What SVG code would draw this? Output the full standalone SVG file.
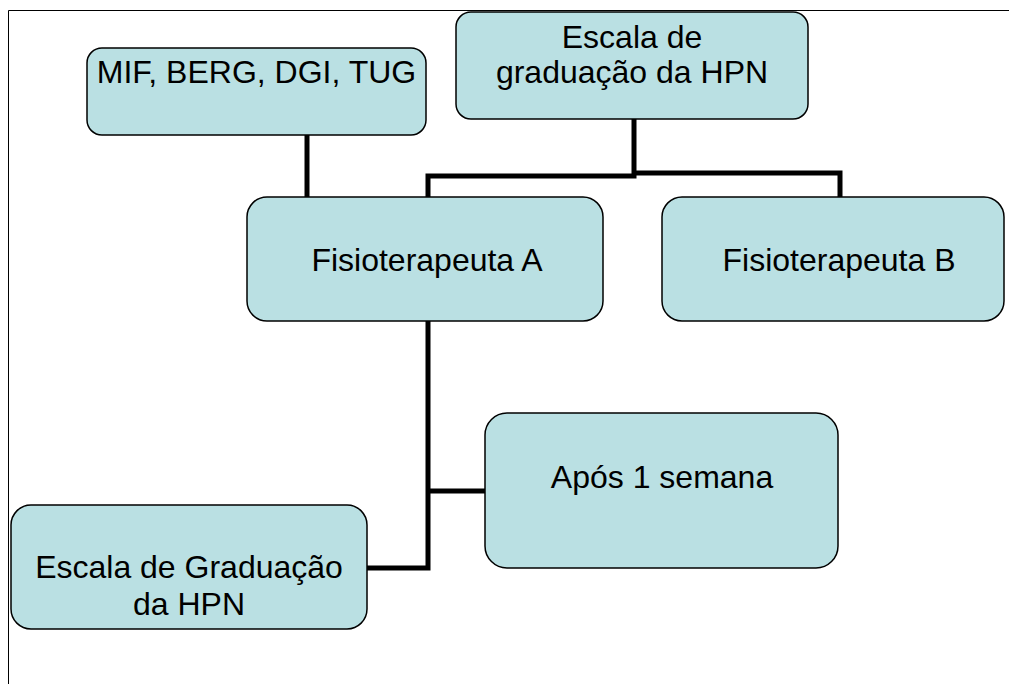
<svg xmlns="http://www.w3.org/2000/svg" width="1009" height="684" viewBox="0 0 1009 684">
<style>
.box{fill:#bae0e3;stroke:#000;stroke-width:1.5}
.lbl{font-family:"Liberation Sans",Arial,sans-serif;font-size:32px;fill:#000;text-anchor:middle}
.con{fill:none;stroke:#000;stroke-width:5}
.frame{fill:none;stroke:#000;stroke-width:1}
</style>
<rect width="1009" height="684" fill="#fff"/>
<path class="frame" d="M8.5,684 V10.5 H1009"/>
<g id="connectors">
<path class="con" d="M307,135 V197"/>
<path class="con" d="M634,119 V176 H428 V197"/>
<path class="con" d="M634,173 H840 V197"/>
<path class="con" d="M428,321 V568 H367"/>
<path class="con" d="M428,491 H485"/>
</g>
<g id="mif">
<rect class="box" x="87" y="48" width="339" height="87" rx="15"/>
<text class="lbl" x="256.5" y="83">MIF, BERG, DGI, TUG</text>
</g>
<g id="escala-top">
<rect class="box" x="456" y="12" width="352" height="107" rx="15"/>
<text class="lbl" x="632" y="48">Escala de</text>
<text class="lbl" x="632" y="83">graduação da HPN</text>
</g>
<g id="fisio-a">
<rect class="box" x="247" y="197" width="356" height="124" rx="20"/>
<text class="lbl" x="427" y="271">Fisioterapeuta A</text>
</g>
<g id="fisio-b">
<rect class="box" x="662" y="197" width="342" height="124" rx="20"/>
<text class="lbl" x="839" y="271">Fisioterapeuta B</text>
</g>
<g id="apos">
<rect class="box" x="485" y="413" width="353" height="155" rx="22"/>
<text class="lbl" x="662" y="488">Após 1 semana</text>
</g>
<g id="escala-grad">
<rect class="box" x="11" y="505" width="356" height="124" rx="20"/>
<text class="lbl" x="189" y="578">Escala de Graduação</text>
<text class="lbl" x="189" y="615">da HPN</text>
</g>
</svg>
